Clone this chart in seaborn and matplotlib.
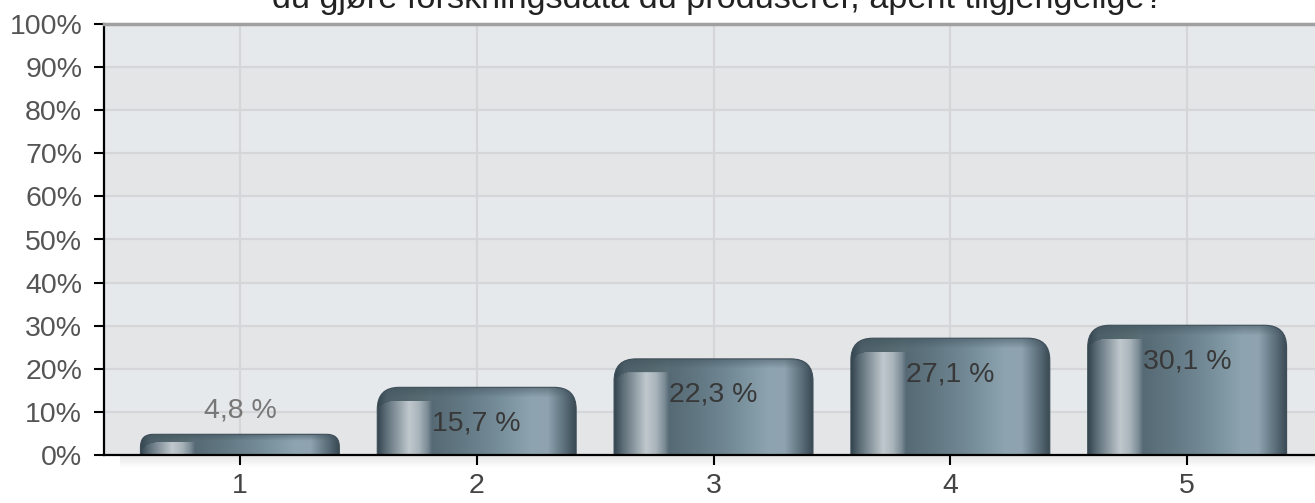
import numpy as np
import pandas as pd
import matplotlib
matplotlib.use("Agg")
import matplotlib.pyplot as plt
import matplotlib.colors as mcolors
from matplotlib.patches import FancyBboxPatch
from matplotlib.ticker import PercentFormatter
import seaborn as sns

# Data
categories = ["1", "2", "3", "4", "5"]
values = [4.8, 15.7, 22.3, 27.1, 30.1]
title = "du gjøre forskningsdata du produserer, åpent tilgjengelige?"

sns.set_style("white")
plt.rcParams["font.family"] = ["Liberation Sans", "DejaVu Sans"]

W_PX, H_PX = 1315, 503
fig = plt.figure(figsize=(W_PX / 100, H_PX / 100), dpi=100)

# faint shadow under the x axis
ax_sh = fig.add_axes([120 / W_PX, (H_PX - 468) / H_PX, 1 - 120 / W_PX, 13 / H_PX])
shade = np.linspace(0.90, 1.0, 20)[:, None] * np.ones((1, 2))
ax_sh.imshow(shade, cmap="gray", vmin=0, vmax=1, aspect="auto")
ax_sh.axis("off")

ax = fig.add_axes([104 / W_PX, 48 / H_PX, (W_PX - 104) / W_PX, 431 / H_PX])

df = pd.DataFrame({"svar": categories, "andel": values})
bar_width = 0.84
sns.barplot(data=df, x="svar", y="andel", width=bar_width, color="#5f7581",
            ax=ax, zorder=3)

ax.set_xlim(-0.574, 4.54)
ax.set_ylim(0, 100)

# alternating background bands and grid
band_colors = ["#e4e5e7", "#e6e9ec"]
for i in range(10):
    ax.axhspan(i * 10, (i + 1) * 10, color=band_colors[i % 2], zorder=0, lw=0)
for yv in range(10, 100, 10):
    ax.axhline(yv, color="#d5d6d8", lw=1.6, zorder=1)
for xv in range(len(categories)):
    ax.axvline(xv, color="#d5d6d8", lw=1.6, zorder=1)

ax.yaxis.set_major_locator(plt.MultipleLocator(10))
ax.yaxis.set_major_formatter(PercentFormatter(decimals=0))
ax.set_xlabel("")
ax.set_ylabel("")
ax.tick_params(axis="y", direction="out", length=7.2, width=1.5, color="black",
               labelsize=20.5, labelcolor="#555555", pad=8.5, left=True)
ax.tick_params(axis="x", direction="out", length=7.2, width=1.5, color="black",
               labelsize=20.5, labelcolor="#444444", pad=6, bottom=True)

for side in ["left", "bottom"]:
    ax.spines[side].set_color("black")
    ax.spines[side].set_linewidth(1.6)
ax.spines["top"].set_color("#a0a0a0")
ax.spines["top"].set_linewidth(2.5)
ax.spines["right"].set_visible(False)
for sp in ax.spines.values():
    sp.set_zorder(6)

# horizontal colour ramps for the glossy bars
body_stops = [(0.00, "#34454f"), (0.04, "#5a6b75"), (0.10, "#8d9aa2"),
              (0.16, "#c0c8cd"), (0.21, "#a9b4bb"), (0.255, "#7a8a94"),
              (0.275, "#566a75"), (0.42, "#617782"), (0.62, "#778e9b"),
              (0.78, "#8ea4b1"), (0.86, "#8ea3af"), (0.93, "#647884"),
              (1.00, "#3a4b55")]
cap_stops = [(0.00, "#34454f"), (0.05, "#4d606a"), (0.20, "#55696f"),
             (0.30, "#5a6f79"), (1.00, "#5a6f79")]


def ramp(stops, n):
    pos = [s[0] for s in stops]
    cols = np.array([mcolors.to_rgb(s[1]) for s in stops])
    t = np.linspace(0, 1, n)
    return np.stack([np.interp(t, pos, cols[:, k]) for k in range(3)], axis=1)


fig.canvas.draw()
px_x = ax.transData.transform((1, 0))[0] - ax.transData.transform((0, 0))[0]
px_y = ax.transData.transform((0, 1))[1] - ax.transData.transform((0, 0))[1]

ncol = 200
body = ramp(body_stops, ncol)
cap = ramp(cap_stops, ncol)
tcol = np.linspace(0, 1, ncol)
top_dark = np.array(mcolors.to_rgb("#3f525c"))

for patch, val in zip(ax.patches, values):
    x0 = patch.get_x()
    w = patch.get_width()
    h = patch.get_height()
    patch.set_visible(False)

    hpx = max(int(round(h * px_y)), 2)
    img = np.repeat(body[None, :, :], hpx, axis=0)
    cap_px = min(14, 0.35 * hpx)
    # cap boundary dips on the left to give the highlight a rounded top
    bound = np.full(ncol, cap_px)
    left = tcol < 0.30
    bound[left] = cap_px + 6 * (1 - np.sqrt(np.clip(1 - ((0.12 - np.clip(tcol[left], 0.02, 0.12)) / 0.1) ** 2, 0, 1)))
    rows = np.arange(hpx)[:, None]
    mix_w = np.clip((tcol - 0.26) / 0.06, 0, 1)[None, :, None]
    cap_img = cap[None, :, :] * (1 - mix_w) + body[None, :, :] * mix_w
    in_cap = (rows < bound[None, :])[:, :, None]
    img = np.where(in_cap, cap_img, img)
    dark_len = min(10, 0.3 * hpx)
    f = np.clip(1 - rows / dark_len, 0, 1)[:, :, None] * 0.5
    img = img * (1 - f) + top_dark[None, None, :] * f

    r_px = min(22, 0.6 * hpx)
    rx = r_px / px_x
    ry = r_px / px_y
    clip = FancyBboxPatch((x0, -2 * ry), w, h + 2 * ry,
                          boxstyle=f"round,pad=0,rounding_size={rx}",
                          mutation_aspect=px_x / px_y,
                          fc="none", ec="#3d4e58", lw=0.8,
                          transform=ax.transData, zorder=4)
    ax.add_patch(clip)
    im = ax.imshow(img, extent=(x0, x0 + w, 0, h), aspect="auto",
                   interpolation="bilinear", zorder=3)
    im.set_clip_path(clip)

    xc = x0 + w / 2
    txt = f"{val:.1f} %".replace(".", ",")
    if hpx > 50:
        ax.annotate(txt, xy=(xc, h), xytext=(0, -43), textcoords="offset pixels",
                    ha="center", va="baseline", fontsize=20.5, color="#383838",
                    zorder=5)
    else:
        ax.annotate(txt, xy=(xc, h), xytext=(0, 17), textcoords="offset pixels",
                    ha="center", va="baseline", fontsize=20.5, color="#777777",
                    zorder=5)

ax.set_xlim(-0.574, 4.54)
ax.set_ylim(0, 100)

# title sits partly above the top edge, as in the reference; size it to its width
t = fig.text(718 / W_PX, 1 - 8 / H_PX, title, ha="center", va="baseline",
             fontsize=20, color="#222222")
fig.canvas.draw()
tw = t.get_window_extent().width
t.set_fontsize(20 * 890 / tw)

fig.savefig("out.png", dpi=100)
